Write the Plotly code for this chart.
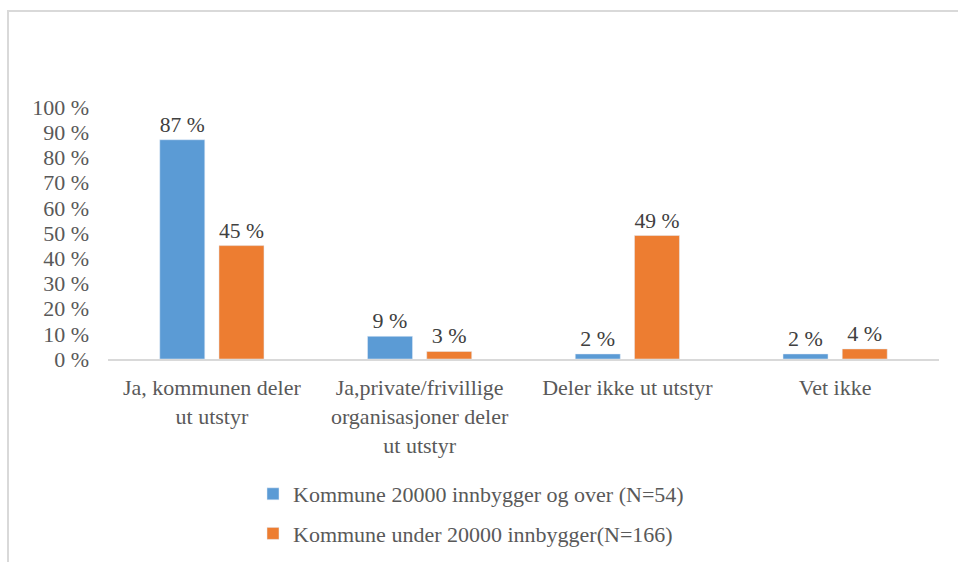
import plotly.graph_objects as go

categories = ["Ja, kommunen deler<br>ut utstyr",
              "Ja,private/frivillige<br>organisasjoner deler<br>ut utstyr",
              "Deler ikke ut utstyr",
              "Vet ikke"]
series_names = ["Kommune 20000 innbygger og over (N=54)",
                "Kommune under 20000 innbygger(N=166)"]
large = [0.87, 0.09, 0.02, 0.02]
small = [0.45, 0.03, 0.49, 0.04]
y_ticks = [i / 10 for i in range(11)]
y_labels = [f"{i * 10} %" for i in range(11)]

font = "Liberation Serif"
W, H = 958, 562
ml, mr, mt, mb = 108, 19, 107, 203
pw, ph = W - ml - mr, H - mt - mb

fig = go.Figure()
for name, vals, col, grp in [(series_names[0], large, "#5B9BD5", "a"),
                             (series_names[1], small, "#ED7D31", "b")]:
    fig.add_trace(go.Bar(
        x=categories, y=vals, name=name, marker_color=col,
        legendgroup=grp,
        text=[f"{round(v * 100)} %" for v in vals],
        textposition="outside", cliponaxis=False,
        textfont=dict(family=font, size=22, color="#404040"),
    ))

fig.update_layout(
    width=W, height=H,
    margin=dict(l=ml, r=mr, t=mt, b=mb, autoexpand=False),
    paper_bgcolor="white", plot_bgcolor="white",
    barmode="group", bargap=0.43, bargroupgap=0.24,
    font=dict(family=font, size=22, color="#595959"),
    legend=dict(orientation="v", x=253 / W, xanchor="left", xref="container",
                y=1 - 473 / H, yanchor="top", yref="container",
                tracegroupgap=8, font=dict(size=22, color="#595959")),
    shapes=[dict(type="rect", xref="paper", yref="paper",
                 x0=(8 - ml) / pw, x1=1.5,
                 y0=-2, y1=(mt + ph - 11) / ph,
                 line=dict(color="#d9d9d9", width=2), layer="below")],
)
fig.update_yaxes(range=[0, 1], tickvals=y_ticks, ticktext=y_labels,
                 showgrid=False, zeroline=False, showline=False,
                 ticklabelstandoff=18, tickfont=dict(size=22))
fig.update_xaxes(showline=True, linecolor="#d9d9d9", linewidth=2,
                 showgrid=False, ticks="", ticklabelstandoff=8,
                 tickfont=dict(size=22))

fig.write_html("out.html", config={"displayModeBar": False},
               post_script="document.body.style.margin='0';")
